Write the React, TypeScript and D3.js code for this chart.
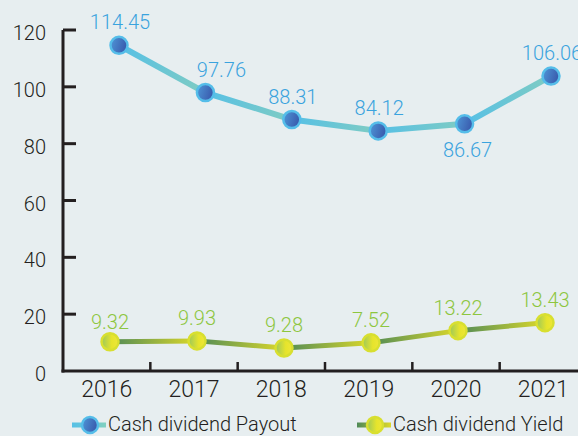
import React, { useEffect, useRef } from 'react';
import * as d3 from 'd3';

// categories + values
const years = ['2016', '2017', '2018', '2019', '2020', '2021'];
const payoutLabels = ['114.45', '97.76', '88.31', '84.12', '86.67', '106.06'];
const payoutValues = [114.6, 98, 88.5, 84.5, 87, 103.8];
const yieldLabels = ['9.32', '9.93', '9.28', '7.52', '13.22', '13.43'];
const yieldValues = [10.3, 10.6, 8.1, 9.9, 14.2, 17];
const yTicks = [0, 20, 40, 60, 80, 100, 120];

const W = 578;
const H = 436;
const FONT = 'Roboto, "Noto Sans", sans-serif';
const INK = '#231f20';

const App = () => {
  const ref = useRef<SVGSVGElement>(null);

  useEffect(() => {
    const svg = d3.select(ref.current);
    svg.selectAll('*').remove();

    const x = d3.scaleBand().domain(years).range([63, 587]);
    const xPay = d3.scalePoint().domain(years).range([119, 551]);
    const xYld = d3.scalePoint().domain(years).range([110, 545]);
    const y = d3.scaleLinear().domain([0, 120]).range([371, 30]);

    svg.append('rect').attr('width', W).attr('height', H).attr('fill', '#e7eef0');

    const defs = svg.append('defs');

    // marker fills
    const gPay = defs.append('linearGradient').attr('id', 'dotPay')
      .attr('x1', 0).attr('y1', 0).attr('x2', 1).attr('y2', 0.3);
    gPay.append('stop').attr('offset', 0).attr('stop-color', '#4f98d8');
    gPay.append('stop').attr('offset', 1).attr('stop-color', '#3a5cae');

    const gYld = defs.append('linearGradient').attr('id', 'dotYld')
      .attr('x1', 0).attr('y1', 0).attr('x2', 1).attr('y2', 0);
    gYld.append('stop').attr('offset', 0).attr('stop-color', '#9cc85a');
    gYld.append('stop').attr('offset', 0.6).attr('stop-color', '#e6e42c');
    gYld.append('stop').attr('offset', 1).attr('stop-color', '#eee638');

    // axes
    svg.append('line')
      .attr('x1', 63).attr('x2', 63)
      .attr('y1', y(120)).attr('y2', y(0) + 1.5)
      .attr('stroke', INK).attr('stroke-width', 3);
    svg.append('line')
      .attr('x1', 61.5).attr('x2', W)
      .attr('y1', y(0)).attr('y2', y(0))
      .attr('stroke', INK).attr('stroke-width', 3);

    svg.selectAll('ytick')
      .data(yTicks.filter(d => d > 0))
      .enter()
      .append('line')
      .attr('x1', 63).attr('x2', 76)
      .attr('y1', d => y(d)).attr('y2', d => y(d))
      .attr('stroke', INK).attr('stroke-width', 3);

    svg.selectAll('ylab')
      .data(yTicks)
      .enter()
      .append('text')
      .attr('x', 46)
      .attr('y', d => y(d) + 10)
      .attr('text-anchor', 'end')
      .attr('font-family', FONT)
      .attr('font-weight', 300)
      .attr('font-size', 20)
      .attr('fill', INK)
      .text(d => d);

    svg.selectAll('xtick')
      .data(years.slice(1))
      .enter()
      .append('line')
      .attr('x1', d => x(d)!).attr('x2', d => x(d)!)
      .attr('y1', y(0)).attr('y2', y(0) - 9)
      .attr('stroke', INK).attr('stroke-width', 2.5);

    svg.selectAll('xlab')
      .data(years)
      .enter()
      .append('text')
      .attr('x', d => x(d)! + x.bandwidth() / 2)
      .attr('y', 397)
      .attr('text-anchor', 'middle')
      .attr('font-family', FONT)
      .attr('font-weight', 300)
      .attr('font-size', 23)
      .attr('fill', INK)
      .text(d => d);

    // one series: gradient segments, markers, labels
    const drawSeries = (
      id: string, xs: d3.ScalePoint<string>, vals: number[], labels: string[],
      c0: string, c1: string, width: number, ring: string, fill: string, txt: string,
      labelPos: (i: number) => [number, number]
    ) => {
      const pts = vals.map((v, i) => [xs(years[i])!, y(v)]);
      for (let i = 0; i < pts.length - 1; i++) {
        const g = defs.append('linearGradient').attr('id', `${id}seg${i}`)
          .attr('gradientUnits', 'userSpaceOnUse')
          .attr('x1', pts[i][0]).attr('y1', pts[i][1])
          .attr('x2', pts[i + 1][0]).attr('y2', pts[i + 1][1]);
        g.append('stop').attr('offset', 0).attr('stop-color', c0);
        g.append('stop').attr('offset', 1).attr('stop-color', c1);
        svg.append('line')
          .attr('x1', pts[i][0]).attr('y1', pts[i][1])
          .attr('x2', pts[i + 1][0]).attr('y2', pts[i + 1][1])
          .attr('stroke', `url(#${id}seg${i})`)
          .attr('stroke-width', width);
      }
      svg.selectAll(`dot${id}`)
        .data(pts)
        .enter()
        .append('circle')
        .attr('cx', d => d[0]).attr('cy', d => d[1])
        .attr('r', 8.5)
        .attr('fill', fill)
        .attr('stroke', ring)
        .attr('stroke-width', 2.5);
      svg.selectAll(`lab${id}`)
        .data(labels)
        .enter()
        .append('text')
        .attr('x', (d, i) => pts[i][0] + labelPos(i)[0])
        .attr('y', (d, i) => pts[i][1] + labelPos(i)[1])
        .attr('text-anchor', 'middle')
        .attr('font-family', FONT)
        .attr('font-weight', 300)
        .attr('font-size', 20)
        .attr('fill', txt)
        .text(d => d);
    };

    drawSeries('pay', xPay, payoutValues, payoutLabels, '#56c0e6', '#80ccc2', 6,
      '#55bde9', 'url(#dotPay)', '#3aa3de',
      i => i === 4 ? [3, 33] : i === 1 ? [16, -16] : [1, -16]);
    drawSeries('yld', xYld, yieldValues, yieldLabels, '#4f8a58', '#dcd82a', 5,
      '#d8df30', 'url(#dotYld)', '#8dc63f',
      i => i === 0 ? [0, -13] : [0, -16]);

    // legend
    const legend = [
      { name: 'Cash dividend Payout', x0: 72, c0: '#56c0e6', c1: '#80d0c0', ring: '#55bde9', fill: 'url(#dotPay)' },
      { name: 'Cash dividend Yield', x0: 357, c0: '#4f8a58', c1: '#dcd82a', ring: '#d8df30', fill: 'url(#dotYld)' },
    ];
    legend.forEach((l, i) => {
      const g = defs.append('linearGradient').attr('id', `leg${i}`)
        .attr('x1', 0).attr('x2', 1).attr('y1', 0).attr('y2', 0);
      g.append('stop').attr('offset', 0).attr('stop-color', l.c0);
      g.append('stop').attr('offset', 1).attr('stop-color', l.c1);
      svg.append('rect')
        .attr('x', l.x0).attr('y', 422.5)
        .attr('width', 34).attr('height', 5)
        .attr('fill', `url(#leg${i})`);
      svg.append('circle')
        .attr('cx', l.x0 + 18).attr('cy', 425)
        .attr('r', 8)
        .attr('fill', l.fill)
        .attr('stroke', l.ring)
        .attr('stroke-width', 2.5);
      svg.append('text')
        .attr('x', l.x0 + 36).attr('y', 431)
        .attr('font-family', FONT)
        .attr('font-weight', 300)
        .attr('font-size', 20)
        .attr('fill', INK)
        .text(l.name);
    });
  }, []);

  return (
    <svg ref={ref} width={W} height={H}
      style={{ position: 'absolute', left: 0, top: 0, display: 'block' }} />
  );
};

export default App;
